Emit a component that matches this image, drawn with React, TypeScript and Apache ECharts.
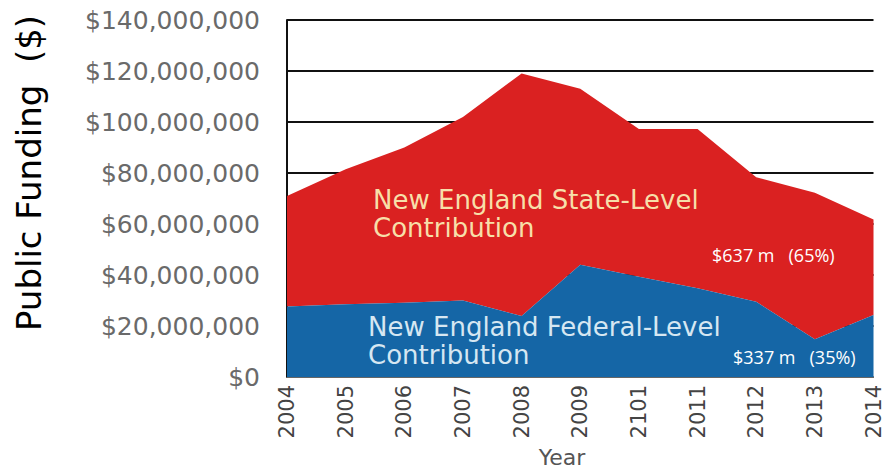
import React, { useEffect, useRef } from "react";
import * as echarts from "echarts";

const years = ["2004", "2005", "2006", "2007", "2008", "2009", "2101", "2011", "2012", "2013", "2014"];
const federal = [27.6, 28.5, 29.1, 30.0, 23.9, 44.0, 39.3, 34.8, 29.5, 14.8, 24.3].map((v) => v * 1e6);
const stateLevel = [43.4, 53.0, 60.9, 72.0, 95.1, 69.0, 58.0, 62.5, 48.8, 57.5, 37.5].map((v) => v * 1e6);
const yTicks = { min: 0, max: 140000000, interval: 20000000 };
const labels = {
  yTitle: "Public Funding  (\$)",
  xTitle: "Year",
  stateName: "New England State-Level\nContribution",
  fedName: "New England Federal-Level\nContribution",
  stateTotal: "\$637 m   (65%)",
  fedTotal: "\$337 m   (35%)",
};

function fmt(v: number) {
  return "$" + v.toString().replace(/\B(?=(\d{3})+(?!\d))/g, ",");
}

export default function App() {
  const ref = useRef<HTMLDivElement>(null);
  useEffect(() => {
    if (!ref.current) return;
    const chart = echarts.init(ref.current, null, { renderer: "svg" });
    chart.setOption({
      animation: false,
      backgroundColor: "#ffffff",
      grid: { left: 287, right: 10, top: 20, bottom: 93 },
      xAxis: {
        type: "category",
        data: years,
        boundaryGap: false,
        axisLine: { show: true, lineStyle: { color: "#666", width: 1 } },
        axisTick: { show: false },
        axisLabel: {
          rotate: 90,
          fontFamily: "DejaVu Sans",
          fontSize: 21,
          color: "#444",
          margin: 8,
        },
      },
      yAxis: {
        type: "value",
        min: yTicks.min,
        max: yTicks.max,
        interval: yTicks.interval,
        axisLine: { show: true, lineStyle: { color: "#111", width: 2 } },
        axisTick: { show: false },
        splitLine: { show: true, lineStyle: { color: "#111", width: 2 } },
        axisLabel: {
          formatter: (v: number) => fmt(v),
          fontFamily: "DejaVu Sans",
          fontSize: 25,
          color: "#6a6a6a",
          margin: 27,
        },
      },
      series: [
        {
          name: "Federal",
          type: "line",
          stack: "total",
          data: federal,
          symbol: "none",
          lineStyle: { width: 0 },
          areaStyle: { color: "#1566a6", opacity: 1 },
          z: 3,
        },
        {
          name: "State",
          type: "line",
          stack: "total",
          data: stateLevel,
          symbol: "none",
          lineStyle: { width: 0 },
          areaStyle: { color: "#da2121", opacity: 1 },
          z: 2,
        },
      ],
      graphic: [
        {
          type: "text",
          x: 29,
          y: 173,
          rotation: Math.PI / 2,
          style: {
            text: labels.yTitle,
            font: "34px 'DejaVu Sans'",
            fill: "#000",
            align: "center",
            verticalAlign: "middle",
          },
        },
        {
          type: "text",
          x: 562,
          y: 457,
          style: {
            text: labels.xTitle,
            font: "22px 'DejaVu Sans'",
            fill: "#555",
            align: "center",
            verticalAlign: "middle",
          },
        },
        {
          type: "text",
          x: 373,
          y: 186,
          z: 10,
          style: {
            text: labels.stateName,
            font: "26px 'DejaVu Sans'",
            fill: "#f7dfa9",
            lineHeight: 28,
          },
        },
        {
          type: "text",
          x: 368,
          y: 313,
          z: 10,
          style: {
            text: labels.fedName,
            font: "26px 'DejaVu Sans'",
            fill: "#d6e7f2",
            lineHeight: 28,
          },
        },
        {
          type: "text",
          x: 712,
          y: 255,
          z: 10,
          style: {
            text: labels.stateTotal,
            font: "18px 'Open Sans'",
            fill: "#ffffff",
            verticalAlign: "middle",
          },
        },
        {
          type: "text",
          x: 733,
          y: 357,
          z: 10,
          style: {
            text: labels.fedTotal,
            font: "18px 'Open Sans'",
            fill: "#ffffff",
            verticalAlign: "middle",
          },
        },
      ],
    });
    return () => chart.dispose();
  }, []);
  return <div ref={ref} style={{ width: 884, height: 470, position: "absolute", left: 0, top: 0 }} />;
}
